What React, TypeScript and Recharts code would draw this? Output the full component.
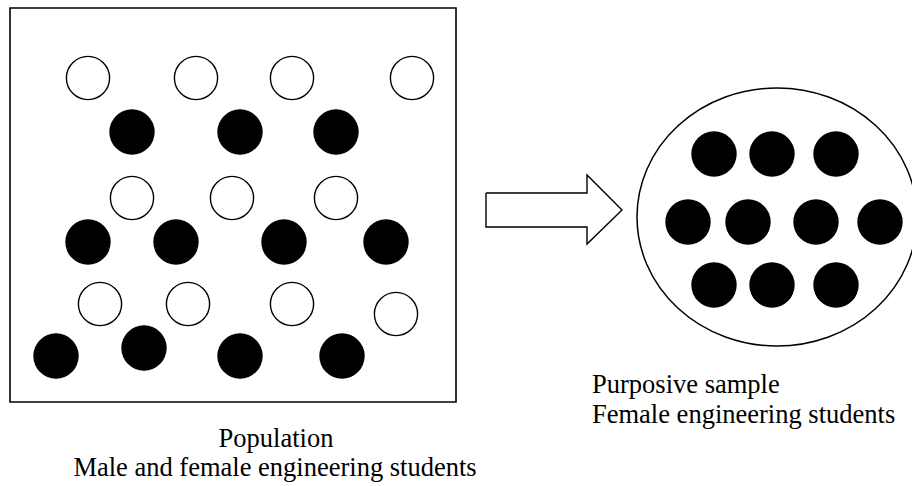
import React from 'react';
import { ScatterChart, Scatter, XAxis, YAxis, ReferenceArea } from 'recharts';

const W = 912;
const H = 486;

// Population: white circles (male) and black circles (female)
const populationWhite = [
  { x: 88, y: 78 }, { x: 196, y: 78 }, { x: 292, y: 78 }, { x: 412, y: 78 },
  { x: 132, y: 198 }, { x: 232, y: 198 }, { x: 336, y: 198 },
  { x: 100, y: 304 }, { x: 188, y: 304 }, { x: 292, y: 304 }, { x: 396, y: 314 },
];
const populationBlack = [
  { x: 132, y: 132 }, { x: 240, y: 132 }, { x: 336, y: 132 },
  { x: 88, y: 242 }, { x: 176, y: 242 }, { x: 284, y: 242 }, { x: 386, y: 242 },
  { x: 56, y: 356 }, { x: 144, y: 348 }, { x: 240, y: 356 }, { x: 342, y: 356 },
];
// Purposive sample: black circles only
const sampleBlack = [
  { x: 714, y: 154 }, { x: 772, y: 154 }, { x: 836, y: 154 },
  { x: 688, y: 222 }, { x: 748, y: 222 }, { x: 816, y: 222 }, { x: 880, y: 222 },
  { x: 714, y: 285 }, { x: 772, y: 285 }, { x: 836, y: 285 },
];
const sampleCentre = [{ x: 777, y: 217 }];
const arrowOutline = [
  { x: 486, y: 193 }, { x: 587, y: 193 }, { x: 587, y: 175 }, { x: 622, y: 210 },
  { x: 587, y: 244 }, { x: 587, y: 227 }, { x: 486, y: 227 }, { x: 486, y: 193 },
];
const captionLines = [
  { x: 276, y: 447, text: 'Population', anchor: 'middle' },
  { x: 275, y: 476, text: 'Male and female engineering students', anchor: 'middle' },
  { x: 592, y: 393, text: 'Purposive sample', anchor: 'start' },
  { x: 592, y: 423, text: 'Female engineering students', anchor: 'start' },
];

const WhiteDot = (p: any) => (
  <circle cx={p.cx} cy={p.cy} r={21.6} fill="#ffffff" stroke="#000000" strokeWidth={1.4} />
);
const BlackDot = (p: any) => <circle cx={p.cx} cy={p.cy} r={22.7} fill="#000000" />;
const Ellipse = (p: any) => (
  <ellipse cx={p.cx} cy={p.cy} rx={140} ry={129} fill="#ffffff" stroke="#000000" strokeWidth={1.5} />
);
const Nothing = () => <g />;
const Caption = (p: any) => (
  <text
    x={p.cx}
    y={p.cy}
    textAnchor={p.payload.anchor}
    fontFamily="'Liberation Serif', 'Times New Roman', serif"
    fontSize={26.5}
    fill="#000000"
  >
    {p.payload.text}
  </text>
);

export default function App() {
  return (
    <div style={{ position: 'fixed', left: 0, top: 0, width: W, height: H, background: '#ffffff' }}>
      <ScatterChart width={W} height={H} margin={{ top: 0, right: 0, bottom: 0, left: 0 }}>
        <XAxis type="number" dataKey="x" domain={[0, W]} allowDataOverflow hide />
        <YAxis type="number" dataKey="y" domain={[0, H]} allowDataOverflow reversed hide />
        <ReferenceArea
          x1={10}
          x2={456}
          y1={8}
          y2={402}
          fill="#ffffff"
          fillOpacity={1}
          stroke="#000000"
          strokeWidth={1.6}
        />
        <Scatter data={sampleCentre} shape={Ellipse} isAnimationActive={false} />
        <Scatter
          data={arrowOutline}
          line={{ stroke: '#000000', strokeWidth: 1.4 }}
          shape={Nothing}
          isAnimationActive={false}
        />
        <Scatter data={populationWhite} shape={WhiteDot} isAnimationActive={false} />
        <Scatter data={populationBlack} shape={BlackDot} isAnimationActive={false} />
        <Scatter data={sampleBlack} shape={BlackDot} isAnimationActive={false} />
        <Scatter data={captionLines} shape={Caption} isAnimationActive={false} />
      </ScatterChart>
    </div>
  );
}
